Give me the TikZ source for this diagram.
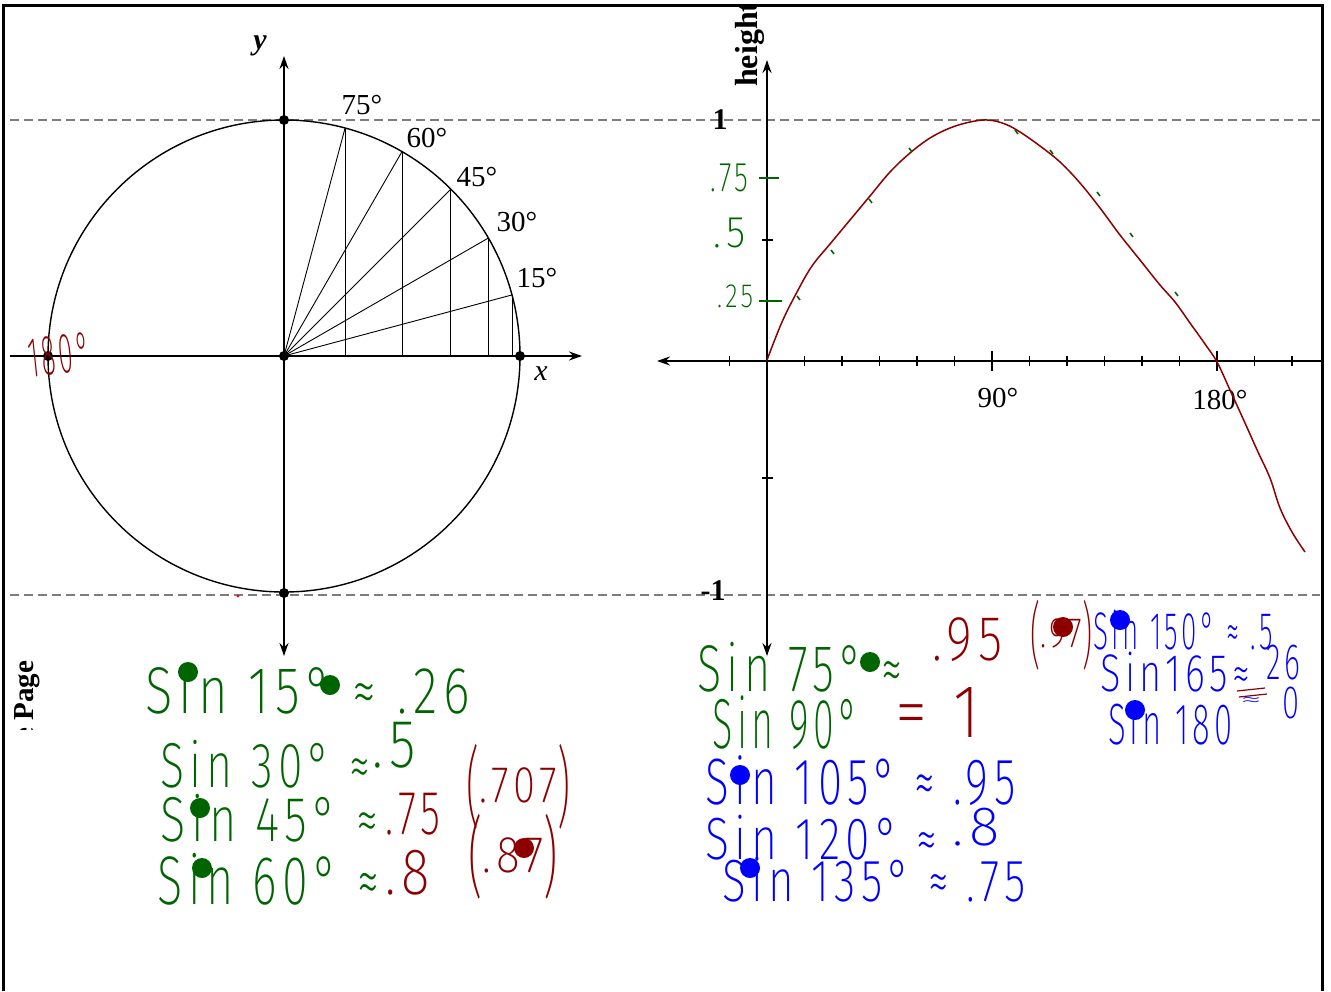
\documentclass[tikz,border=0pt]{standalone}
\usepackage{fontspec}
\usepackage{graphicx}
\usetikzlibrary{arrows.meta}
\setmainfont{Liberation Serif}
\newfontfamily\hand{Fira Sans ExtraLight}[LetterSpace=12]
\definecolor{hgreen}{RGB}{0,100,0}
\definecolor{hred}{RGB}{140,0,0}
\definecolor{hblue}{RGB}{0,0,255}
\definecolor{dashgray}{RGB}{125,125,125}
\newcommand\hw[3]{\resizebox*{#1pt}{#2pt}{\hand #3}}
\newcommand\pp[1]{\raisebox{-0.3em}{\scalebox{1}[1.7]{#1}}}
\begin{document}
\begin{tikzpicture}[x=1pt,y=-1pt,
  axis/.style={line width=2pt, black},
  tipend/.style={-{Stealth[length=13pt,width=9pt]}},
  tipboth/.style={{Stealth[length=13pt,width=9pt]}-{Stealth[length=13pt,width=9pt]}},
  guide/.style={dashgray, line width=2.5pt, dash pattern=on 9pt off 5pt},
  thinline/.style={line width=0.9pt, black},
  bigdot/.style={circle, fill=black, inner sep=0pt, minimum size=10pt},
  inkdot/.style={circle, inner sep=0pt, minimum size=20pt},
  lbl/.style={font=\fontsize{29}{29}\selectfont, inner sep=0pt},
  hwnode/.style={inner sep=0pt, anchor=south west},
  gmark/.style={hgreen, line width=1.6pt}]
\useasboundingbox (0,0) rectangle (1331,991);
% frame
\draw[line width=3pt] (3,991) -- (3,5) -- (1322,5) -- (1322,991);
% guides
\coordinate (g1a) at (10,120); \coordinate (g1b) at (1320,120);
\coordinate (g2a) at (10,595); \coordinate (g2b) at (1320,595);
\draw[guide] (g1a) -- (g1b);
\draw[guide] (g2a) -- (g2b);
% unit circle
\coordinate (O) at (284,356);
\draw[line width=1.4pt] (O) circle [radius=236pt];
\coordinate (xl) at (10,356); \coordinate (xr) at (582,356);
\coordinate (yb) at (284,656); \coordinate (yt) at (284,56);
\draw[axis, tipend] (xl) -- (xr);
\draw[axis, tipboth] (yb) -- (yt);
\foreach \a in {15,30,45,60,75}{
  \draw[thinline] (O) -- ++({236*cos(\a)},{-236*sin(\a)}) coordinate (p\a);
  \draw[thinline] (p\a) -- (p\a |- O);
}
\node[bigdot] (dtop) at (284,120) {};
\node[bigdot] (dO) at (O) {};
\node[bigdot] (dright) at (520,356) {};
\node[bigdot] (dleft) at (48,356) {};
\node[bigdot] (dbot) at (284,593) {};
\node[lbl] (l75) at (362,105) {75°};
\node[lbl] (l60) at (427,138) {60°};
\node[lbl] (l45) at (477,177) {45°};
\node[lbl] (l30) at (517,222) {30°};
\node[lbl] (l15) at (537,278) {15°};
\node[lbl, font=\bfseries\itshape\fontsize{30}{30}\selectfont] (ly) at (260,46) {y};
\node[lbl, font=\itshape\fontsize{30}{30}\selectfont] (lx) at (541,374) {x};
\node[hwnode, text=hred, rotate=6] (h180) at (30,378) {\hw{62}{40}{180°}};
\fill[red] (238,596) circle (1.5pt);
% right graph
\coordinate (O2) at (767,361);
\coordinate (x2l) at (657,361); \coordinate (x2r) at (1321,361);
\coordinate (y2b) at (767,656); \coordinate (y2t) at (767,60);
\draw[axis, tipend] (x2r) -- (x2l);
\draw[axis, tipboth] (y2b) -- (y2t);
\foreach \k in {-1,1,2,3,4,5,7,8,9,10,11,13,14}{
  \draw[line width=1.3pt] ({767+37.5*\k},356) -- ({767+37.5*\k},366);
}
\foreach \k in {6,12}{
  \draw[line width=1.3pt] ({767+37.5*\k},351) -- ({767+37.5*\k},371);
}
\draw[line width=1.8pt] (762,240) -- (773,240);
\draw[line width=1.8pt] (762,478) -- (773,478);
\node[lbl, font=\bfseries\fontsize{30}{30}\selectfont] (l1) at (720,120) {1};
\node[lbl, font=\bfseries\fontsize{30}{30}\selectfont] (lm1) at (713,591) {-1};
\node[lbl] (l90) at (998,398) {90°};
\node[lbl] (l180) at (1220,400) {180°};
\begin{scope}
  \clip (5,7) rectangle (1320,200);
  \node[rotate=90, anchor=base west, inner sep=0pt, font=\bfseries\fontsize{32}{32}\selectfont] (lh) at (757,87) {height};
\end{scope}
\begin{scope}
  \clip (5,600) rectangle (70,729);
  \node[rotate=90, anchor=base west, inner sep=0pt, font=\bfseries\fontsize{29}{29}\selectfont] (lpage) at (33,741) {e Page};
\end{scope}
% green y ticks and labels
\draw[gmark] (759,178) -- (779,178);
\draw[gmark] (759,301) -- (782,301);
\node[hwnode, text=hgreen] (t75) at (710,192) {\hw{38}{28}{.75}};
\node[hwnode, text=hgreen] (t5) at (713,248) {\hw{32}{30}{.5}};
\node[hwnode, text=hgreen] (t25) at (717,308) {\hw{36}{23}{.25}};
% sine curve
\draw[hred, line width=1.5pt] plot[smooth, tension=0.6] coordinates {
 (767,360) (782,322) (797,292) (812,266) (830,244) (850,220) (870,196)
 (890,172) (910,153) (930,138) (950,128) (970,122) (988,120) (1005,124)
 (1020,132) (1040,146) (1060,162) (1080,183) (1100,208) (1120,235)
 (1140,260) (1160,285) (1175,302) (1190,323) (1205,344) (1217,362)
 (1230,390) (1245,423) (1258,452) (1270,478) (1280,508) (1292,532) (1305,552)};
\foreach \p in {(797,296),(831,250),(869,199),(909,148),(1015,130),(1050,150),(1097,192),(1130,233),(1175,292)}{
  \draw[gmark] \p -- ++(3,4);
}
% handwritten notes, left column
\node[hwnode, text=hgreen] (s15) at (145,714) {\hw{325}{50}{Sin 15° ≈ .26}};
\node[hwnode, text=hgreen] (s30) at (160,788) {\hw{210}{48}{Sin 30° ≈}};
\node[hwnode, text=hgreen] (v30) at (372,768) {\hw{44}{46}{.5}};
\node[hwnode, text=hgreen] (s45) at (160,842) {\hw{218}{48}{Sin 45° ≈}};
\node[hwnode, text=hred] (v45) at (385,835) {\hw{55}{42}{.75}};
\node[hwnode, text=hred] (w45) at (466,830) {\hw{104}{85}{\pp{(}.707\pp{)}}};
\node[hwnode, text=hgreen] (s60) at (157,905) {\hw{222}{52}{Sin 60° ≈}};
\node[hwnode, text=hred] (v60) at (385,895) {\hw{45}{45}{.8}};
\node[hwnode, text=hred] (w60) at (468,900) {\hw{90}{85}{\pp{(}.87\pp{)}}};
% right column
\node[hwnode, text=hgreen] (s75) at (697,692) {\hw{205}{50}{Sin 75° ≈}};
\node[hwnode, text=hred] (v75) at (932,662) {\hw{70}{44}{.95}};
\node[hwnode, text=hred] (w75) at (1030,670) {\hw{62}{70}{\pp{(}.97\pp{)}}};
\node[hwnode, text=hgreen] (s90) at (712,750) {\hw{146}{54}{Sin 90°}};
\node[hwnode, text=hred] (v90) at (895,738) {\hw{85}{50}{= 1}};
\node[hwnode, text=hblue] (s105) at (705,806) {\hw{310}{50}{Sin 105° ≈ .95}};
\node[hwnode, text=hblue] (s120) at (705,860) {\hw{232}{45}{Sin 120° ≈}};
\node[hwnode, text=hblue] (v120) at (952,846) {\hw{48}{38}{.8}};
\node[hwnode, text=hblue] (s135) at (722,902) {\hw{303}{45}{Sin 135° ≈ .75}};
\node[hwnode, text=hblue] (s150) at (1093,650) {\hw{180}{40}{Sin 150° ≈ .5}};
\node[hwnode, text=hblue] (s165) at (1100,692) {\hw{150}{40}{Sin165≈}};
\node[hwnode, text=hblue] (v165) at (1266,680) {\hw{34}{35}{26}};
\node[hwnode, text=hblue] (s180) at (1108,745) {\hw{124}{44}{Sin 180}};
\node[hwnode, text=hblue] (a180) at (1240,707) {\hw{22}{9}{≈}};
\node[hwnode, text=hblue] (z180) at (1282,719) {\hw{17}{32}{0}};
\draw[hred, line width=1.2pt] (1237,691) -- (1265,688);
\draw[hred, line width=1.2pt] (1239,697) -- (1267,694);
% ink dots
\node[inkdot, fill=hgreen] (dg1) at (188,672) {};
\node[inkdot, fill=hgreen] (dg2) at (330,685) {};
\node[inkdot, fill=hgreen] (dg3) at (200,808) {};
\node[inkdot, fill=hgreen] (dg4) at (202,868) {};
\node[inkdot, fill=hgreen] (dg5) at (870,662) {};
\node[inkdot, fill=hred] (dr1) at (524,848) {};
\node[inkdot, fill=hred] (dr2) at (1063,627) {};
\node[inkdot, fill=hblue] (db1) at (740,775) {};
\node[inkdot, fill=hblue] (db2) at (750,868) {};
\node[inkdot, fill=hblue] (db3) at (1120,620) {};
\node[inkdot, fill=hblue] (db4) at (1135,710) {};
\end{tikzpicture}
\end{document}
